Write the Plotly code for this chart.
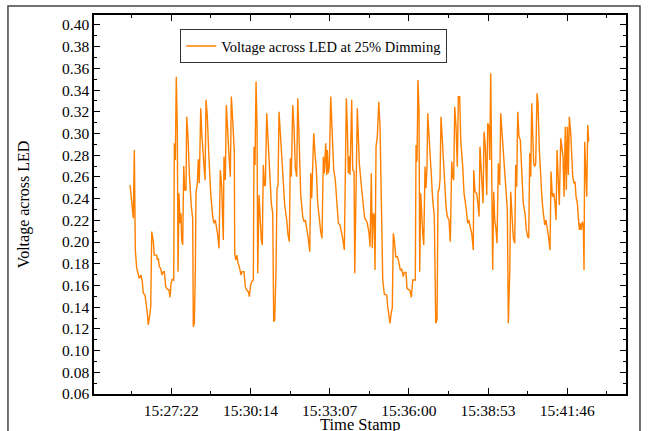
import pandas as pd
import plotly.graph_objects as go

# ---- data ----
start_time = "2024-01-01 15:25:51.5"
elapsed_s = [
    0, 7.2, 9.4, 11.6, 14.6, 20.3, 24.0, 26.8, 29.0, 32.7, 37.8, 39.9, 43.6, 45.2, 47.4, 50.9, 53.0, 58.3, 59.6, 61.8,
    63.9, 67.0, 69.8, 72.7, 74.9, 77.9, 81.4, 85.1, 87.3, 89.5, 92.3, 95.4, 96.7, 98.9, 101.0, 103.2, 104.8, 106.9, 109.1, 111.3,
    112.8, 115.0, 117.2, 119.4, 122.2, 123.7, 126.6, 129.4, 133.8, 136.8, 138.1, 140.3, 142.5, 144.0, 146.9, 149.1, 151.2, 154.3, 156.5, 160.0,
    162.2, 163.7, 165.9, 168.7, 171.8, 176.1, 180.5, 183.3, 186.2, 189.2, 191.4, 194.2, 197.1, 200.1, 203.6, 205.1, 208.0, 210.2, 212.3, 216.1,
    218.9, 221.1, 224.1, 227.6, 228.5, 230.7, 233.5, 235.7, 238.5, 242.2, 244.4, 248.8, 251.6, 254.7, 258.2, 260.4, 263.4, 265.6, 269.1, 270.6,
    272.8, 275.0, 277.2, 278.7, 281.5, 284.4, 286.6, 288.7, 290.9, 293.1, 295.3, 298.3, 300.5, 304.0, 308.4, 311.4, 313.6, 315.8, 318.6, 320.8,
    323.0, 325.2, 327.4, 331.1, 334.6, 337.6, 342.0, 344.8, 347.7, 349.8, 352.0, 355.1, 357.9, 360.8, 363.8, 366.0, 368.2, 372.5, 376.9, 379.7,
    382.6, 385.6, 388.5, 392.2, 394.4, 396.5, 398.7, 400.9, 403.7, 406.6, 409.6, 413.1, 416.2, 419.0, 421.9, 424.0, 427.1, 429.3, 430.6, 432.8,
    434.9, 438.0, 440.8, 444.6, 448.0, 451.1, 454.6, 458.3, 461.1, 464.2, 467.7, 469.9, 472.1, 474.2, 476.4, 478.6, 480.1, 483.8, 486.0, 488.9,
    490.4, 496.1, 500.4, 505.7, 509.2, 512.2, 515.0, 517.9, 521.6, 523.8, 526.6, 528.8, 531.0, 533.2, 534.7, 536.9, 539.7, 542.8, 545.6, 551.5,
    555.0, 560.2, 562.4, 564.6, 567.4, 570.3, 572.4, 574.6, 576.8, 579.9, 583.4, 585.5, 587.7, 589.9, 593.0, 596.5, 598.6, 602.3, 604.5, 608.2,
    611.1, 613.9, 617.0, 622.6, 624.2, 626.3, 628.5, 630.7, 632.2, 634.4, 636.6, 638.8, 641.0, 643.8, 646.0, 648.2, 649.7, 652.5, 656.9, 660.6,
    664.1, 667.2, 670.0, 672.2, 674.4, 676.5, 678.7, 681.6, 685.3, 689.6, 692.5, 696.2, 699.0, 702.1, 704.3, 706.4, 708.6, 711.5, 714.3, 716.5,
    719.5, 721.7, 726.1, 728.9, 732.6, 734.8, 737.0, 739.2, 742.0, 745.7, 749.2, 750.1, 752.9, 756.6, 759.5, 761.7, 763.7, 766.0, 768.2, 770.4,
    772.6, 775.4, 778.5, 780.6, 783.5, 785.0, 787.2, 789.4, 791.5, 793.7, 795.9, 798.8, 800.9, 803.8, 806.8, 809.0, 811.8, 814.0, 816.9, 820.6,
    823.4, 825.6, 828.7, 830.8, 833.7, 836.5, 839.6, 841.7, 843.9, 846.1, 848.9, 851.8, 854.8, 858.3, 862.0, 864.9, 867.9, 870.1, 872.3, 874.5,
    876.7, 878.8, 881.0, 883.2, 885.4, 888.2, 890.4, 893.3, 896.3, 899.2, 902.0, 905.1, 907.9, 910.8, 913.8, 916.6, 918.8, 921.7, 924.7, 927.5,
    929.7, 931.9, 934.7, 936.9, 940.0, 942.8, 945.0, 947.2, 950.0, 952.2, 954.4, 956.6, 958.7, 961.8, 964.0, 966.2, 969.0, 971.2, 973.4, 976.2,
    978.4, 980.6, 982.8, 984.9, 987.1, 989.3, 990.8, 992.3, 994.5, 996.7, 998.9, 1001.0,
]
voltage = [
    0.2526, 0.2219, 0.2848, 0.1927, 0.1758, 0.1666, 0.1696, 0.1635, 0.1528, 0.1512, 0.1344, 0.1236, 0.1344, 0.1405, 0.2096, 0.2003, 0.1880, 0.1880, 0.1835, 0.1850,
    0.1773, 0.1758, 0.1696, 0.1727, 0.1727, 0.1589, 0.1565, 0.1558, 0.1491, 0.1620, 0.1657, 0.1650, 0.2910, 0.2756, 0.3524, 0.3033, 0.1727, 0.2449, 0.2173, 0.2265,
    0.2019, 0.1973, 0.2701, 0.2480, 0.2480, 0.3155, 0.2971, 0.2633, 0.2326, 0.2219, 0.1220, 0.1251, 0.1727, 0.2449, 0.2541, 0.2762, 0.2541, 0.3232, 0.3002, 0.2787,
    0.2680, 0.2572, 0.3310, 0.3155, 0.2818, 0.2449, 0.2234, 0.2173, 0.2203, 0.2142, 0.2065, 0.1942, 0.2664, 0.2510, 0.2019, 0.2787, 0.2572, 0.3263, 0.3048, 0.2787,
    0.2602, 0.3340, 0.3125, 0.2833, 0.1896, 0.1835, 0.1880, 0.1804, 0.1773, 0.1696, 0.1727, 0.1727, 0.1589, 0.1558, 0.1543, 0.1497, 0.1604, 0.1635, 0.1650, 0.2879,
    0.2710, 0.3478, 0.3063, 0.1712, 0.2434, 0.2173, 0.2019, 0.1973, 0.2710, 0.2526, 0.2517, 0.3186, 0.3002, 0.2664, 0.2357, 0.2265, 0.1266, 0.1282, 0.1743, 0.2495,
    0.2526, 0.3201, 0.3033, 0.2741, 0.2526, 0.2341, 0.2203, 0.2065, 0.2003, 0.2772, 0.2602, 0.3263, 0.3063, 0.2680, 0.2602, 0.3325, 0.3063, 0.2434, 0.2234, 0.2188,
    0.2203, 0.2142, 0.2050, 0.1911, 0.2633, 0.2403, 0.2787, 0.3002, 0.2818, 0.2664, 0.2357, 0.2203, 0.2096, 0.2035, 0.2787, 0.2633, 0.2910, 0.2618, 0.2848, 0.2633,
    0.2695, 0.3340, 0.2971, 0.2664, 0.2572, 0.2326, 0.2173, 0.2157, 0.2111, 0.2035, 0.1927, 0.2756, 0.3325, 0.3063, 0.2633, 0.2787, 0.2618, 0.3310, 0.2664, 0.2649,
    0.1712, 0.3232, 0.2725, 0.2480, 0.2357, 0.2219, 0.2203, 0.2173, 0.2081, 0.1957, 0.2633, 0.1942, 0.2265, 0.2234, 0.1743, 0.2879, 0.2971, 0.3293, 0.3063, 0.1650,
    0.1519, 0.1512, 0.1405, 0.1344, 0.1251, 0.1359, 0.1390, 0.2081, 0.2019, 0.1865, 0.1865, 0.1835, 0.1789, 0.1743, 0.1749, 0.1681, 0.1721, 0.1721, 0.1574, 0.1558,
    0.1552, 0.1491, 0.1650, 0.1650, 0.2894, 0.2741, 0.3493, 0.3217, 0.1727, 0.2449, 0.2173, 0.2081, 0.1973, 0.2695, 0.2495, 0.2710, 0.3186, 0.2925, 0.2664, 0.2388,
    0.2234, 0.1251, 0.1282, 0.2464, 0.2480, 0.2572, 0.3155, 0.2940, 0.2649, 0.2326, 0.2234, 0.2203, 0.2003, 0.2741, 0.2602, 0.2572, 0.3247, 0.3063, 0.2695, 0.3340,
    0.3340, 0.2940, 0.2695, 0.2449, 0.2341, 0.2234, 0.2173, 0.2203, 0.2142, 0.2081, 0.1927, 0.2664, 0.2464, 0.2449, 0.2341, 0.2234, 0.2879, 0.2664, 0.2418, 0.2357,
    0.3017, 0.2879, 0.2434, 0.3094, 0.3063, 0.2756, 0.3555, 0.2756, 0.1743, 0.2464, 0.2203, 0.2111, 0.1988, 0.2725, 0.2526, 0.3186, 0.3017, 0.2940, 0.2725, 0.2541,
    0.2295, 0.1251, 0.1727, 0.2464, 0.2203, 0.2035, 0.1988, 0.2710, 0.2510, 0.3201, 0.2971, 0.2940, 0.2664, 0.2357, 0.2265, 0.2111, 0.2050, 0.2035, 0.2818, 0.2602,
    0.3278, 0.3033, 0.2725, 0.2695, 0.2725, 0.3370, 0.3278, 0.2848, 0.2572, 0.2388, 0.2265, 0.2157, 0.2203, 0.2127, 0.2035, 0.1927, 0.2649, 0.2418, 0.2449, 0.2357,
    0.2203, 0.2848, 0.2510, 0.2341, 0.2956, 0.2879, 0.2787, 0.2418, 0.3063, 0.2480, 0.3063, 0.2618, 0.3155, 0.3002, 0.2756, 0.2602, 0.2541, 0.2556, 0.2418, 0.2357,
    0.2234, 0.2111, 0.2173, 0.2111, 0.2188, 0.2142, 0.1743, 0.2925, 0.2664, 0.2418, 0.3079, 0.2925,
]
tick_labels = ["15:27:22", "15:30:14", "15:33:07", "15:36:00", "15:38:53", "15:41:46"]
first_tick = "2024-01-01 15:27:21.6"
tick_step_s = 172.8
x_range = ["2024-01-01 15:24:32.9", "2024-01-01 15:43:53.9"]
y_range = [0.06, 0.4092]

# ---- build ----
t0 = pd.Timestamp(start_time)
times = [t0 + pd.Timedelta(seconds=s) for s in elapsed_s]
ft = pd.Timestamp(first_tick)
major = [ft + pd.Timedelta(seconds=tick_step_s * i) for i in range(len(tick_labels))]
minor = [ft + pd.Timedelta(seconds=tick_step_s * (i - 0.5)) for i in range(len(tick_labels) + 2)]

font_family = "Liberation Serif, Times New Roman, serif"

fig = go.Figure()
fig.add_trace(go.Scatter(
    x=times, y=voltage, mode="lines",
    name="Voltage across LED at 25% Dimming",
    line=dict(color="#ff8000", width=1.4),
))

fig.update_layout(
    width=648, height=431,
    margin=dict(l=94, r=22, t=15, b=37),
    paper_bgcolor="white", plot_bgcolor="white",
    font=dict(family=font_family, size=15.5, color="black"),
    showlegend=True,
    legend=dict(
        x=0.162, y=0.963, xanchor="left", yanchor="top",
        bgcolor="white", bordercolor="#333333", borderwidth=1,
        font=dict(family=font_family, size=14.5, color="black"),
        itemwidth=30, tracegroupgap=0,
    ),
    shapes=[dict(
        type="rect", xref="paper", yref="paper",
        x0=-0.1617, x1=1.0263, y0=-0.12, y1=1.0237,
        line=dict(color="#444444", width=1.5), fillcolor="rgba(0,0,0,0)", layer="below",
    )],
    annotations=[dict(
        text="Time Stamp", xref="paper", yref="paper", x=0.5, y=-0.0802,
        xanchor="center", yanchor="middle", showarrow=False,
        font=dict(family=font_family, size=16.5, color="black"),
    )],
)

fig.update_xaxes(
    range=x_range, type="date", automargin=False,
    tickmode="array", tickvals=major, ticktext=tick_labels,
    ticks="inside", ticklen=6, tickwidth=1.2, tickcolor="black",
    minor=dict(tickmode="array", tickvals=minor, ticks="inside", ticklen=3, tickwidth=1, tickcolor="black"),
    showline=True, linecolor="black", linewidth=1.5, mirror="allticks",
    showgrid=False, zeroline=False,
    ticklabelstandoff=2,
    tickfont=dict(size=15.5),
)
fig.update_yaxes(
    range=y_range, automargin=False,
    tickmode="linear", tick0=0.06, dtick=0.02, tickformat=".2f",
    ticks="inside", ticklen=6, tickwidth=1.2, tickcolor="black",
    minor=dict(tick0=0.06, dtick=0.01, ticks="inside", ticklen=3, tickwidth=1, tickcolor="black"),
    showline=True, linecolor="black", linewidth=1.5, mirror="allticks",
    showgrid=False, zeroline=False,
    title=dict(text="Voltage across LED", standoff=28, font=dict(size=16)),
    tickfont=dict(size=15.5),
)

fig.write_html("out.html")
